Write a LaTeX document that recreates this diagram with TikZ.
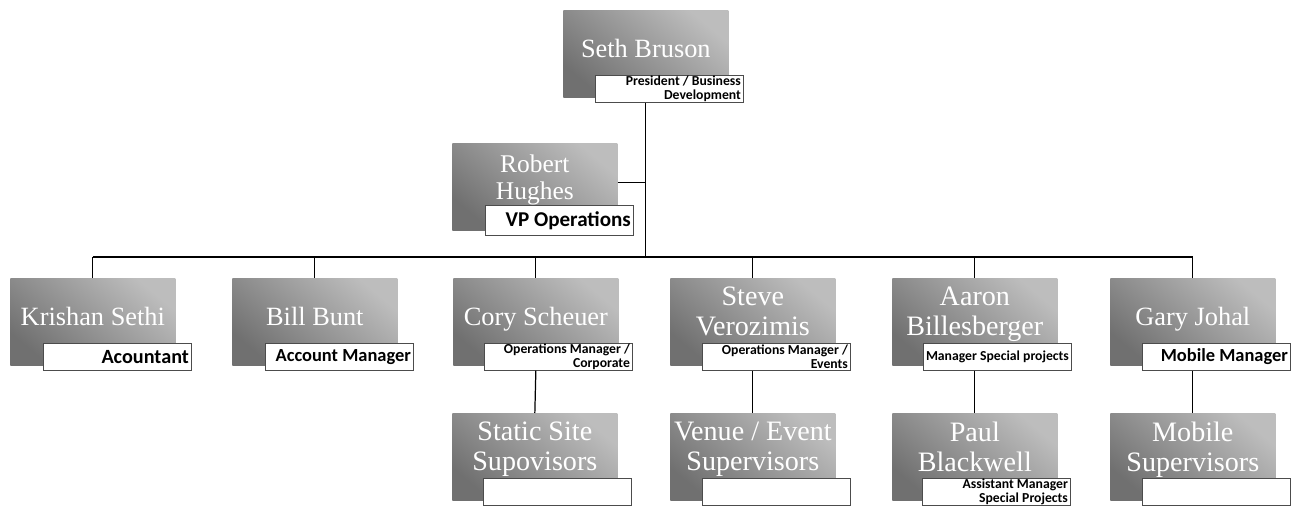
\documentclass[tikz,border=0pt]{standalone}
\usepackage{fontspec}
\setmainfont{Liberation Serif}
\newfontfamily\rolefont{Carlito}
\usetikzlibrary{positioning}

\begin{document}
\begin{tikzpicture}[x=0.02cm, y=-0.02cm,
    person/.style={anchor=north west, minimum width=3.3cm, minimum height=1.74cm, inner sep=0pt,
        align=center, text=white, top color=black!26, bottom color=black!56, shading angle=-40,
        text depth=0.2cm, font=\fontsize{15}{16}\selectfont},
    bigname/.style={text depth=0.42cm, font=\fontsize{16}{17}\selectfont},
    role/.style={draw=black!70, line width=0.5pt, fill=white, minimum width=2.96cm, minimum height=0.54cm,
        text width=2.86cm, inner xsep=0.05cm, inner ysep=0pt, align=flush right,
        font=\rolefont\bfseries\fontsize{10.5}{11}\selectfont},
    smallrole/.style={role, font=\rolefont\bfseries\fontsize{7.8}{7.6}\selectfont},
    link/.style={line width=0.7pt}]
    \useasboundingbox (0,0) rectangle (1294,506);
    \clip (0,0) rectangle (1294,506);

    \node[person] (seth) at (563,10) {Seth Bruson};
    \node[smallrole, above right=-0.1cm and 0.64cm of seth.south west] (seth-r) {President / Business\\Development};

    \node[person, text depth=0.4cm, font=\fontsize{14.5}{15.5}\selectfont] (robert) at (452,143) {Robert\\Hughes};
    \node[role, minimum height=0.6cm, font=\rolefont\bfseries\fontsize{12}{12}\selectfont,
        above right=-0.1cm and 0.66cm of robert.south west] (robert-r) {VP Operations};

    \node[person] (krish) at (10,278) {Krishan Sethi};
    \node[role, font=\rolefont\bfseries\fontsize{11.5}{12}\selectfont,
        above right=-0.1cm and 0.66cm of krish.south west] (krish-r) {Acountant};
    \node[person] (bill) at (232,278) {Bill Bunt};
    \node[role, above right=-0.1cm and 0.66cm of bill.south west] (bill-r) {Account Manager};
    \node[person] (cory) at (453,278) {Cory Scheuer};
    \node[smallrole, above right=-0.1cm and 0.62cm of cory.south west] (cory-r) {Operations Manager /\\Corporate};
    \node[person, bigname] (steve) at (670,278) {Steve\\Verozimis};
    \node[smallrole, above right=-0.1cm and 0.64cm of steve.south west] (steve-r) {Operations Manager /\\Events};
    \node[person, bigname] (aaron) at (892,278) {Aaron\\Billesberger};
    \node[smallrole, above right=-0.1cm and 0.62cm of aaron.south west] (aaron-r) {Manager Special projects};
    \node[person] (gary) at (1110,278) {Gary Johal};
    \node[role, above right=-0.1cm and 0.64cm of gary.south west] (gary-r) {Mobile Manager};

    \node[person, bigname] (static) at (452,413) {Static Site\\Supovisors};
    \node[role, above right=-0.1cm and 0.62cm of static.south west] (static-r) {};
    \node[person, bigname] (venue) at (670,413) {Venue / Event\\Supervisors};
    \node[role, above right=-0.1cm and 0.64cm of venue.south west] (venue-r) {};
    \node[person, bigname] (paul) at (892,413) {Paul\\Blackwell};
    \node[smallrole, above right=-0.1cm and 0.60cm of paul.south west] (paul-r) {Assistant Manager\\Special Projects};
    \node[person, bigname] (mobile) at (1110,413) {Mobile\\Supervisors};
    \node[role, above right=-0.1cm and 0.64cm of mobile.south west] (mobile-r) {};

    \coordinate (bus) at (0,257);
    \draw[link] (seth |- seth-r.south) -- (seth |- bus);
    \draw[link] ([yshift=0.09cm]robert.east) -- ([yshift=0.09cm]robert.east -| seth);
    \draw[link] (krish |- bus) -- (gary |- bus);
    \foreach \n in {krish,bill,cory,steve,aaron,gary}
        \draw[link] (\n |- bus) -- (\n.north);
    \foreach \n/\m in {cory/static,steve/venue,aaron/paul,gary/mobile}
        \draw[link] (\n |- \n-r.south) -- (\m.north);
\end{tikzpicture}
\end{document}
